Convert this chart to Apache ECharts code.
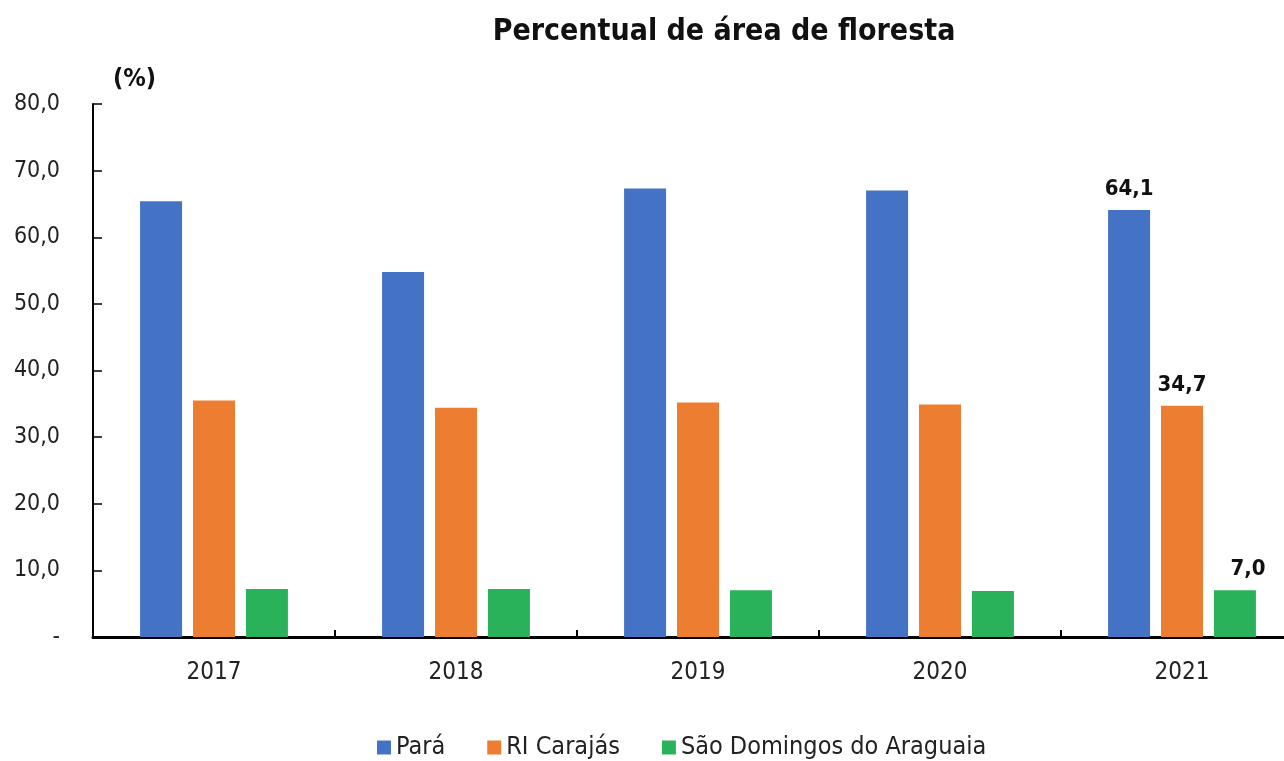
<!DOCTYPE html>
<html>
<head>
<meta charset="utf-8">
<script src="https://cdn.jsdelivr.net/npm/echarts@6/dist/echarts.min.js"></script>
<style>
    html, body { margin: 0; padding: 0; background: #fff; }
    #chart { width: 1284px; height: 761px; }
</style>
</head>
<body>
<div id="chart"></div>
<script>
const years = ['2017', '2018', '2019', '2020', '2021'];
const para = [65.4, 54.8, 67.3, 67.0, 64.1];
const carajas = [35.5, 34.4, 35.2, 34.9, 34.7];
const saoDomingos = [7.2, 7.2, 7.0, 6.9, 7.0];
const seriesNames = ['Pará', 'RI Carajás', 'São Domingos do Araguaia'];
const colors = ['#4472C4', '#ED7D31', '#2AB25A'];

const font = '"DejaVu Sans Condensed", "Liberation Sans", Arial, sans-serif';

// só o último ano leva rótulo
const labelLast = (offset) => ({
    show: true,
    position: 'top',
    distance: 10,
    offset: offset,
    fontFamily: font,
    fontWeight: 'bold',
    fontSize: 22,
    color: '#111',
    formatter: (p) => p.dataIndex === years.length - 1 ? p.value.toFixed(1).replace('.', ',') : ''
});

const chart = echarts.init(document.getElementById('chart'));
const option = {
    animation: false,
    title: {
        text: 'Percentual de área de floresta',
        left: 719,
        textAlign: 'center',
        top: 12,
        textStyle: { fontFamily: font, fontWeight: 'bold', fontSize: 30, color: '#111' }
    },
    legend: {
        data: seriesNames,
        top: 730,
        left: 372,
        itemWidth: 14,
        itemHeight: 14,
        itemGap: 42,
        icon: 'rect',
        textStyle: { fontFamily: font, fontSize: 25, color: '#222' }
    },
    grid: { left: 93, top: 104, width: 1210, height: 533, outerBoundsMode: 'none', containLabel: false },
    xAxis: {
        type: 'category',
        data: years,
        axisLine: { lineStyle: { color: '#000', width: 3 } },
        axisTick: { show: true, inside: true, length: 7, lineStyle: { color: '#000', width: 2 } },
        axisLabel: { fontFamily: font, fontSize: 24, color: '#222', margin: 24 }
    },
    yAxis: {
        type: 'value',
        min: 0,
        max: 80,
        interval: 10,
        name: '(%)',
        nameLocation: 'end',
        nameGap: 12,
        nameTextStyle: { fontFamily: font, fontWeight: 'bold', fontSize: 25, color: '#111', align: 'left', padding: [0, 0, 0, 20] },
        axisLine: { show: true, lineStyle: { color: '#000', width: 2 } },
        axisTick: { show: true, inside: true, length: 9, lineStyle: { color: '#000', width: 1.5 } },
        splitLine: { show: false },
        axisLabel: {
            fontFamily: font,
            fontSize: 23,
            color: '#222',
            margin: 33,
            formatter: (v) => v === 0 ? '-' : v.toFixed(1).replace('.', ',')
        }
    },
    series: [
        {
            name: seriesNames[0], type: 'bar', data: para, barWidth: 42, barGap: '26%',
            itemStyle: { color: colors[0] }, label: labelLast([0, 0])
        },
        {
            name: seriesNames[1], type: 'bar', data: carajas, barWidth: 42, barGap: '26%',
            itemStyle: { color: colors[1] }, label: labelLast([0, 0])
        },
        {
            name: seriesNames[2], type: 'bar', data: saoDomingos, barWidth: 42, barGap: '26%',
            itemStyle: { color: colors[2] }, label: labelLast([13, 0])
        }
    ]
};
chart.setOption(option);
</script>
</body>
</html>
